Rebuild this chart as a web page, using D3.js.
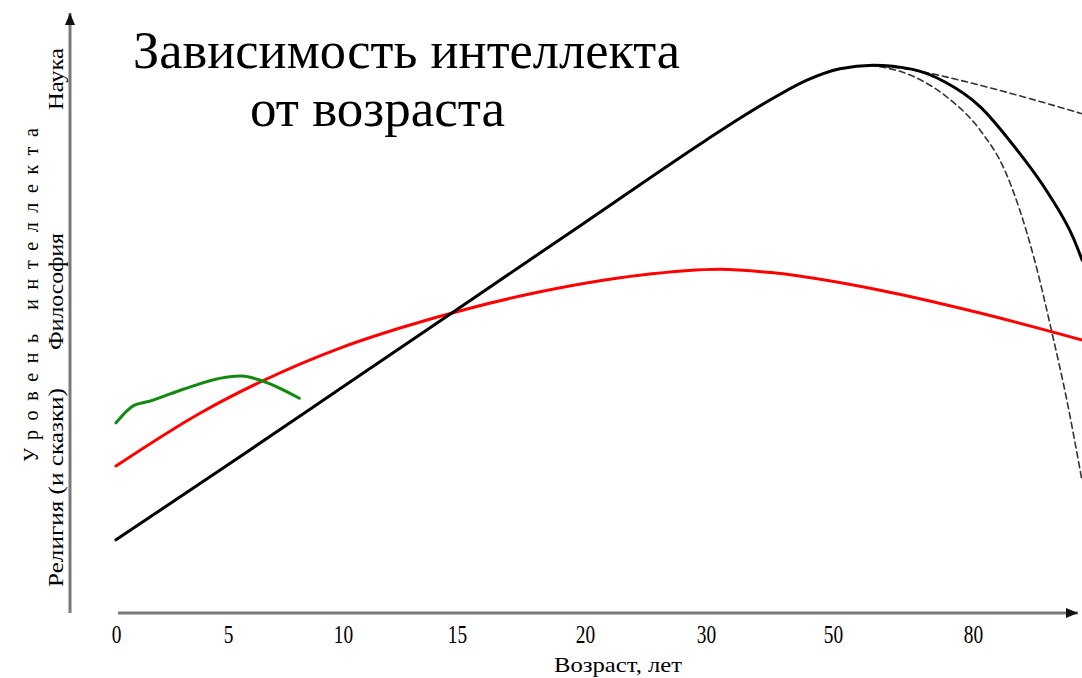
<!DOCTYPE html>
<html>
<head>
<meta charset="utf-8">
<script src="https://cdn.jsdelivr.net/npm/d3@7/dist/d3.min.js"></script>
<style>
  body { margin: 0; background: #fff; }
  svg { display: block; }
  text { font-family: "Liberation Serif", "Times New Roman", serif; fill: #000; }
</style>
</head>
<body>
<svg id="chart" width="1082" height="678"></svg>
<script>
// ages on the x axis (the axis is not uniform)
var ageTicks = [0, 5, 10, 15, 20, 30, 50, 80];

// [age, level], level 0..100 along the y axis
var science = [[0,12.2],[5,24.7],[10,37.7],[15,50.6],[20,65.1],[30,78.8],[35.4,82.5],[40.9,86],
  [45.9,88.8],[51.5,90.7],[58.6,91.3],[67.1,90.6],[74,88.5],[81.5,84.4],[88.6,78],[95.9,70.2],
  [101.5,62.5],[103.4,58.8]];
var scienceSlow = [[58.6,91.3],[67.1,90.5],[77.2,88.8],[90,86.2],[103.4,83.2]];
var scienceFast = [[57.9,91.3],[66.4,89.7],[74.4,86],[81.5,80.5],[86.8,73.8],[90,67.2],
  [93.2,58.8],[96.9,46.8],[100.1,35.5],[103.3,22.3]];
var philosophy = [[0,24.5],[3.75,33.3],[6.4,38.5],[9.9,44.2],[12.5,47.5],[15.5,50.8],[18.2,53.5],
  [24.5,56.3],[32.2,57.3],[40.6,56.7],[60.1,53.8],[81.5,50],[103.4,45.5]];
var religion = [[0,31.7],[0.8,34.6],[1.5,35.3],[3,37.3],[4.9,39.3],[5.6,39.5],[6.4,38.8],[8.1,35.8]];

var titleLines = ["Зависимость интеллекта", "от возраста"];

var svg = d3.select("#chart");

// x is piecewise: each tick sits where the drawing puts it
var x = d3.scaleLinear().domain(ageTicks).range([116, 228, 343, 457, 585, 706, 833, 973]);
var y = d3.scaleLinear().domain([0, 100]).range([613, 13]);

var defs = svg.append("defs");
defs.append("marker")
  .attr("id", "arrow")
  .attr("viewBox", "0 0 12 10")
  .attr("refX", 12).attr("refY", 5)
  .attr("markerWidth", 12).attr("markerHeight", 10)
  .attr("markerUnits", "userSpaceOnUse")
  .attr("orient", "auto")
  .append("path").attr("d", "M0,0L12,5L0,10Z").attr("fill", "#111");

// axes
svg.append("line")
  .attr("x1", x(0) + 2).attr("x2", 1078)
  .attr("y1", y(0)).attr("y2", y(0))
  .attr("stroke", "#7a7a7a").attr("stroke-width", 3)
  .attr("marker-end", "url(#arrow)");
svg.append("line")
  .attr("x1", 70).attr("x2", 70)
  .attr("y1", y(0)).attr("y2", y(100))
  .attr("stroke", "#7a7a7a").attr("stroke-width", 3)
  .attr("marker-end", "url(#arrow)");

var xAxis = svg.append("g")
  .attr("transform", "translate(0," + y(0) + ")")
  .call(d3.axisBottom(x).tickValues(ageTicks).tickSize(0).tickPadding(10).tickFormat(d3.format("d")));
xAxis.select(".domain").remove();
xAxis.selectAll("text")
  .attr("transform", "scale(0.88,1.18)")
  .style("font-family", "Liberation Serif, serif")
  .style("font-size", "22px")
  .attr("fill", "#000");

svg.append("text")
  .attr("x", 554).attr("y", 672)
  .attr("textLength", 128).attr("lengthAdjust", "spacingAndGlyphs")
  .style("font-size", "22px")
  .text("Возраст, лет");

// y axis labels, rotated
function vText(cx, yStart, yEnd, size, str, adjust) {
  svg.append("text")
    .attr("transform", "translate(" + cx + "," + yStart + ") rotate(-90)")
    .attr("textLength", yStart - yEnd)
    .attr("lengthAdjust", adjust)
    .style("font-size", size + "px")
    .text(str);
}
vText(38, 462, 128, 20, "Уровень интеллекта", "spacing");
vText(63, 587, 388, 21, "Религия (и сказки)", "spacingAndGlyphs");
vText(63, 350, 233, 21, "Философия", "spacingAndGlyphs");
vText(63, 110, 48, 21, "Наука", "spacingAndGlyphs");

// title
svg.append("text")
  .attr("x", 133).attr("y", 68)
  .attr("textLength", 547).attr("lengthAdjust", "spacingAndGlyphs")
  .style("font-size", "52px")
  .text(titleLines[0]);
svg.append("text")
  .attr("x", 250).attr("y", 126)
  .attr("textLength", 255).attr("lengthAdjust", "spacingAndGlyphs")
  .style("font-size", "52px")
  .text(titleLines[1]);

// curves
var line = d3.line()
  .x(function(d){ return x(d[0]); })
  .y(function(d){ return y(d[1]); })
  .curve(d3.curveMonotoneX);

var plot = svg.append("g");

function drawCurve(data, color, width, dash) {
  plot.append("path")
    .datum(data)
    .attr("d", line)
    .attr("fill", "none")
    .attr("stroke", color)
    .attr("stroke-width", width)
    .attr("stroke-linecap", "round")
    .attr("stroke-dasharray", dash || null);
}

drawCurve(scienceSlow, "#333", 1.6, "6,4");
drawCurve(scienceFast, "#333", 1.6, "6,4");
drawCurve(philosophy, "#ff0000", 3);
drawCurve(religion, "#128a12", 3);
drawCurve(science, "#000", 3);
</script>
</body>
</html>
